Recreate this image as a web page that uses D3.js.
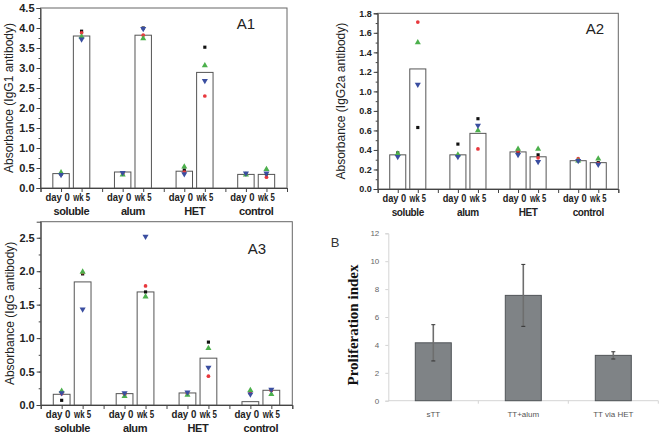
<!DOCTYPE html>
<head>
  <meta charset="utf-8">
  <script src="https://d3js.org/d3.v7.min.js"></script>
  <style>
    body { margin:0; background:#fff; }
    svg { display:block; }
    .tl { font-family:"Liberation Sans", Arial, sans-serif; font-weight:bold; fill:#222; }
  </style>
</head>
<body>
<div id="chart"></div>
<script>

var groups = ["soluble", "alum", "HET", "control"];
var times = ["day 0", "wk 5"];

// A1 IgG1
var a1Bars  = [0.36, 3.80, 0.40, 3.82, 0.42, 2.89, 0.34, 0.34];
var a1Black = [0.35, 3.92, 0.36, 4.00, 0.45, 3.52, 0.35, 0.35];
var a1Red   = [0.35, 3.88, 0.36, 3.82, 0.40, 2.30, 0.34, 0.27];
var a1Green = [0.39, 3.78, 0.33, 3.74, 0.53, 3.06, 0.33, 0.47];
var a1Blue  = [0.33, 3.72, 0.38, 3.98, 0.35, 2.68, 0.37, 0.37];

// A2 IgG2a
var a2Bars  = [0.35, 1.23, 0.35, 0.57, 0.38, 0.33, 0.29, 0.27];
var a2Black = [0.37, 0.63, 0.46, 0.72, 0.38, 0.35, 0.29, 0.27];
var a2Red   = [0.35, 1.71, 0.34, 0.41, 0.39, 0.32, 0.31, 0.26];
var a2Green = [0.36, 1.50, 0.35, 0.60, 0.41, 0.41, 0.29, 0.31];
var a2Blue  = [0.33, 1.07, 0.33, 0.65, 0.35, 0.28, 0.29, 0.25];

// A3 IgG
var a3Bars  = [0.16, 1.84, 0.17, 1.69, 0.18, 0.70, 0.05, 0.22];
var a3Black = [0.07, 1.96, 0.16, 1.69, 0.18, 0.94, 0.18, 0.22];
var a3Red   = [0.17, 1.98, 0.16, 1.78, 0.17, 0.43, 0.18, 0.22];
var a3Green = [0.21, 1.99, 0.13, 1.62, 0.15, 0.85, 0.22, 0.16];
var a3Blue  = [0.18, 1.43, 0.18, 2.52, 0.19, 0.56, 0.16, 0.23];

// B proliferation
var bCats  = ["sTT", "TT+alum", "TT via HET"];
var bMeans = [4.15, 7.55, 3.25];
var bErrs  = [1.30, 2.22, 0.26];
var bTicks = [0, 2, 4, 6, 8, 10, 12];

var svg = d3.select("#chart").append("svg").attr("width", 661).attr("height", 436);

// bar positions on the x scale: 1,2 | 4,5 | 7,8 | 10,11
var pos = [1, 2, 4, 5, 7, 8, 10, 11];

function drawPanel(p) {
  var x = d3.scaleLinear().domain([0, 12]).range([p.x0, p.x1]);
  var y = d3.scaleLinear().domain([0, p.ymax]).range([p.y1, p.y0]);
  var g = svg.append("g");
  var axCol = "#444";

  // frame
  g.append("rect").attr("x", p.x0).attr("y", p.y0)
    .attr("width", p.x1 - p.x0).attr("height", p.y1 - p.y0)
    .attr("fill", "none").attr("stroke", "#666").attr("stroke-width", 1);

  // bars
  g.selectAll(".bar").data(p.bars).enter().append("rect")
    .attr("x", function(d, i) { return x(pos[i] - 0.4); })
    .attr("width", x(0.8) - x(0))
    .attr("y", function(d) { return y(d); })
    .attr("height", function(d) { return y(0) - y(d); })
    .attr("fill", "#fff").attr("stroke", "#555").attr("stroke-width", 1);

  // points
  var series = [
    {v: p.black, sym: d3.symbolSquare, size: 10, col: "#111"},
    {v: p.red, sym: d3.symbolCircle, size: 11, col: "#e8383d"},
    {v: p.green, sym: d3.symbolTriangle, size: 16, col: "#4cb04c", rot: 0},
    {v: p.blue, sym: d3.symbolTriangle, size: 16, col: "#3a4ea0", rot: 180}
  ];
  series.forEach(function(s) {
    g.selectAll(null).data(s.v).enter().append("path")
      .attr("d", d3.symbol().type(s.sym).size(s.size))
      .attr("transform", function(d, i) {
        return "translate(" + x(pos[i]) + "," + y(d) + ")" + (s.rot ? " rotate(" + s.rot + ")" : "");
      })
      .attr("fill", s.col);
  });

  // y axis
  var ya = g.append("g").attr("transform", "translate(" + p.x0 + ",0)")
    .call(d3.axisLeft(y).tickValues(d3.range(0, p.ymax + 1e-9, p.minor)).tickSize(2).tickFormat(""));
  ya.select(".domain").remove();
  ya.selectAll("line").attr("stroke", axCol);
  var yb = g.append("g").attr("transform", "translate(" + p.x0 + ",0)")
    .call(d3.axisLeft(y).tickValues(d3.range(0, p.ytop + 1e-9, p.step)).tickSize(4).tickPadding(2)
      .tickFormat(d3.format(".1f")));
  yb.select(".domain").attr("stroke", axCol);
  yb.selectAll("line").attr("stroke", axCol);
  yb.selectAll("text").attr("class", "tl").style("font-size", p.fs + "px");

  // x axis
  var xa = g.append("g").attr("transform", "translate(0," + p.y1 + ")")
    .call(d3.axisBottom(x).tickValues(d3.range(0, 13)).tickSize(4).tickFormat(""));
  xa.select(".domain").attr("stroke", axCol);
  xa.selectAll("line").attr("stroke", axCol);

  var unit = x(1) - x(0);
  g.selectAll(".tlab").data(pos).enter().append("text")
    .attr("class", "tl").style("font-size", p.fs2 + "px")
    .attr("x", function(d, i) { return x(d) + (i % 2 ? 0 : -0.17 * unit); })
    .attr("y", p.y1 + 13)
    .attr("text-anchor", "middle")
    .attr("textLength", function(d, i) { return i % 2 ? unit * 0.82 : unit * 1.18; })
    .attr("lengthAdjust", "spacingAndGlyphs")
    .text(function(d, i) { return times[i % 2]; });
  g.selectAll(".glab").data(groups).enter().append("text")
    .attr("class", "tl").style("font-size", p.fs2 + "px")
    .style("letter-spacing", "-0.4px")
    .attr("x", function(d, i) { return x(pos[i * 2] + 0.5); })
    .attr("y", p.y1 + 27)
    .attr("text-anchor", "middle")
    .text(function(d) { return d; });

  // y title
  g.append("text")
    .attr("transform", "translate(" + p.tx + "," + ((p.y0 + p.y1) / 2) + ") rotate(-90)")
    .attr("text-anchor", "middle")
    .style("font-family", "Liberation Sans, Arial, sans-serif").style("font-size", p.tfs + "px")
    .attr("fill", "#222")
    .text(p.title);

  // panel label
  g.append("text").attr("x", p.lx).attr("y", p.ly)
    .attr("text-anchor", "middle")
    .style("font-family", "Liberation Sans, Arial, sans-serif").style("font-size", "15px")
    .attr("fill", "#222")
    .text(p.label);
}

drawPanel({
  bars: a1Bars, black: a1Black, red: a1Red, green: a1Green, blue: a1Blue,
  x0: 40.5, x1: 287, y0: 8, y1: 188, ymax: 4.5, ytop: 4.5, step: 0.5, minor: 0.25,
  fs: 11, fs2: 11, tfs: 12, tx: 13, title: "Absorbance (IgG1 antibody)",
  label: "A1", lx: 246, ly: 29
});
drawPanel({
  bars: a2Bars, black: a2Black, red: a2Red, green: a2Green, blue: a2Blue,
  x0: 377.7, x1: 618.3, y0: 13.3, y1: 189, ymax: 1.8, ytop: 1.8, step: 0.2, minor: 0.1,
  fs: 9, fs2: 10, tfs: 12, tx: 345, title: "Absorbance (IgG2a antibody)",
  label: "A2", lx: 595, ly: 34
});
drawPanel({
  bars: a3Bars, black: a3Black, red: a3Red, green: a3Green, blue: a3Blue,
  x0: 40.7, x1: 292.3, y0: 221.7, y1: 405, ymax: 2.74, ytop: 2.5, step: 0.5, minor: 0.25,
  fs: 11, fs2: 11, tfs: 12, tx: 14, title: "Absorbance (IgG antibody)",
  label: "A3", lx: 257, ly: 254
});

// panel B
(function() {
  var x0 = 388.3, x1 = 658.3, y0 = 233.3, y1 = 400.7;
  var x = d3.scaleBand().domain(bCats).range([x0, x1]).paddingInner(0.6).paddingOuter(0.3);
  var y = d3.scaleLinear().domain([0, 12]).range([y1, y0]);
  var g = svg.append("g");

  var ya = g.append("g").attr("transform", "translate(" + x0 + ",0)")
    .call(d3.axisLeft(y).tickValues(bTicks).tickSize(3).tickPadding(6));
  ya.select(".domain").attr("stroke", "#d4d4d4");
  ya.selectAll("line").attr("stroke", "#d4d4d4");
  ya.selectAll("text").style("font-family", "Liberation Sans, Arial, sans-serif")
    .style("font-size", "8px").attr("fill", "#666");

  var band = (x1 - x0) / bCats.length;
  g.append("line").attr("x1", x0).attr("x2", x1).attr("y1", y1).attr("y2", y1)
    .attr("stroke", "#d4d4d4");
  g.selectAll(".bt").data(d3.range(1, bCats.length + 1)).enter().append("line")
    .attr("x1", function(d) { return x0 + d * band; })
    .attr("x2", function(d) { return x0 + d * band; })
    .attr("y1", y1).attr("y2", y1 + 3).attr("stroke", "#d4d4d4");

  g.selectAll(".bb").data(bMeans).enter().append("rect")
    .attr("x", function(d, i) { return x(bCats[i]); })
    .attr("width", x.bandwidth())
    .attr("y", function(d) { return y(d); })
    .attr("height", function(d) { return y1 - y(d); })
    .attr("fill", "#7f8386").attr("stroke", "#505458").attr("stroke-width", 1);

  g.selectAll(".eb").data(bMeans).enter().append("line")
    .attr("x1", function(d, i) { return x(bCats[i]) + x.bandwidth() / 2; })
    .attr("x2", function(d, i) { return x(bCats[i]) + x.bandwidth() / 2; })
    .attr("y1", function(d, i) { return y(d + bErrs[i]); })
    .attr("y2", function(d, i) { return y(d - bErrs[i]); })
    .attr("stroke", "#6e6e6e").attr("stroke-width", 1.6);
  [1, -1].forEach(function(sgn) {
    g.selectAll(null).data(bMeans).enter().append("line")
      .attr("x1", function(d, i) { return x(bCats[i]) + x.bandwidth() / 2 - 2; })
      .attr("x2", function(d, i) { return x(bCats[i]) + x.bandwidth() / 2 + 2; })
      .attr("y1", function(d, i) { return y(d + sgn * bErrs[i]); })
      .attr("y2", function(d, i) { return y(d + sgn * bErrs[i]); })
      .attr("stroke", "#333").attr("stroke-width", 1);
  });

  g.selectAll(".bl").data(bCats).enter().append("text")
    .attr("x", function(d) { return x(d) + x.bandwidth() / 2; })
    .attr("y", 417)
    .attr("text-anchor", "middle")
    .style("font-family", "Liberation Sans, Arial, sans-serif").style("font-size", "8px")
    .attr("fill", "#555")
    .text(function(d) { return d; });

  g.append("text")
    .attr("transform", "translate(358," + ((y0 + y1) / 2 + 8) + ") rotate(-90)")
    .attr("text-anchor", "middle")
    .style("font-family", "Liberation Serif, Times New Roman, serif").style("font-size", "15px")
    .style("font-weight", "bold").attr("fill", "#111")
    .text("Proliferation index");

  g.append("text").attr("x", 335).attr("y", 247).attr("text-anchor", "middle")
    .style("font-family", "Liberation Sans, Arial, sans-serif").style("font-size", "13px")
    .attr("fill", "#333").text("B");
})();
</script>
</body>
